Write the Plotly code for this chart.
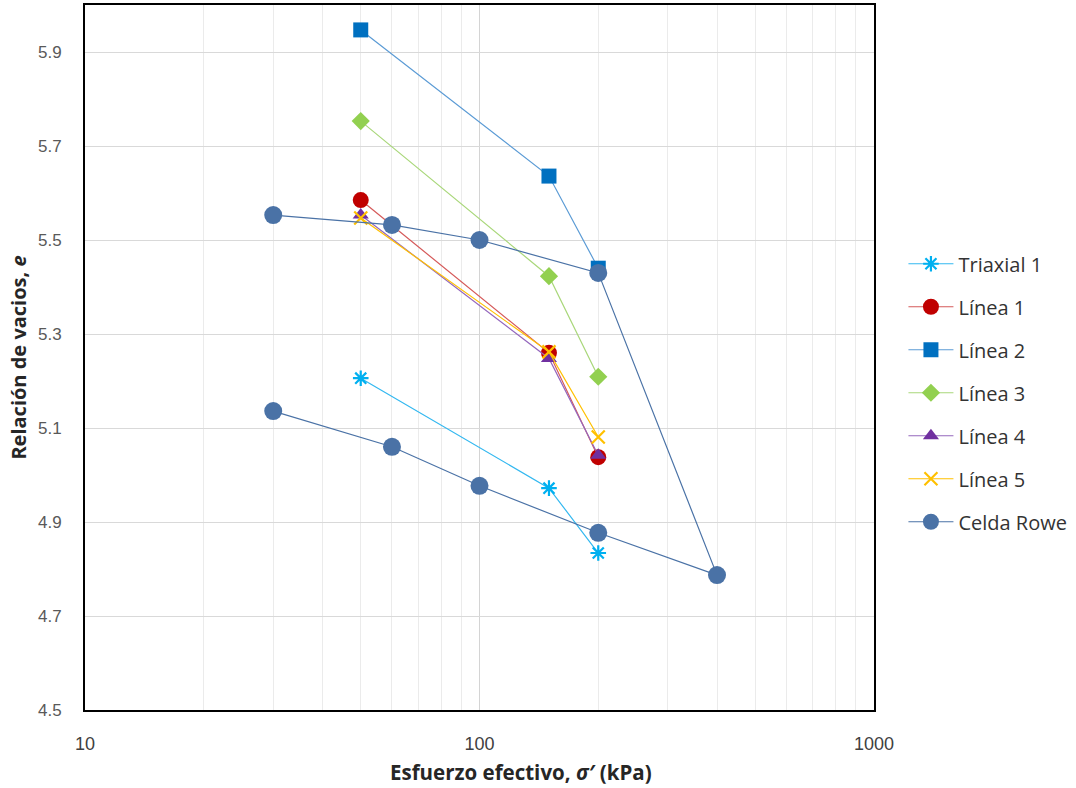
import plotly.graph_objects as go

# Data
tri_x = [50, 150, 200]
tri_y = [5.206, 4.972, 4.834]
l1_x = [50, 150, 200]
l1_y = [5.585, 5.260, 5.038]
l2_x = [50, 150, 200]
l2_y = [5.947, 5.636, 5.440]
l3_x = [50, 150, 200]
l3_y = [5.753, 5.423, 5.209]
l4_x = [50, 150, 200]
l4_y = [5.553, 5.248, 5.042]
l5_x = [50, 150, 200]
l5_y = [5.547, 5.262, 5.081]
rowe_x = [30, 60, 100, 200, 400, 200, 100, 60, 30]
rowe_y = [5.553, 5.532, 5.500, 5.430, 4.787, 4.877, 4.977, 5.060, 5.136]

y_ticks = [4.5, 4.7, 4.9, 5.1, 5.3, 5.5, 5.7, 5.9]
x_ticks = [10, 100, 1000]
x_minor = [20, 30, 40, 50, 60, 70, 80, 90, 200, 300, 400, 500, 600, 700, 800, 900]

fig = go.Figure()

def add(name, x, y, line_color, marker):
    fig.add_trace(go.Scatter(
        x=x, y=y, name=name, mode="lines+markers",
        line=dict(color=line_color, width=1.2),
        marker=marker, legendgroup=name,
    ))

add("Triaxial 1", tri_x, tri_y, "#33B8F0",
    dict(symbol="asterisk-open", size=13, color="#00B0F0", line=dict(color="#00B0F0", width=2.2)))
add("Línea 1", l1_x, l1_y, "#D55A5A",
    dict(symbol="circle", size=16, color="#C00000"))
add("Línea 2", l2_x, l2_y, "#5B9BD5",
    dict(symbol="square", size=15, color="#0070C0"))
add("Línea 3", l3_x, l3_y, "#A9D77A",
    dict(symbol="diamond", size=14, color="#92D050"))
add("Línea 4", l4_x, l4_y, "#9467BD",
    dict(symbol="triangle-up", size=14, color="#7030A0"))
add("Línea 5", l5_x, l5_y, "#FFC000",
    dict(symbol="x-thin-open", size=13, color="#FFC000", line=dict(color="#FFC000", width=2.2)))
add("Celda Rowe", rowe_x, rowe_y, "#4A72A6",
    dict(symbol="circle", size=18, color="#4A72A6"))

fig.update_layout(
    width=1076, height=788,
    paper_bgcolor="white", plot_bgcolor="white",
    margin=dict(l=85, r=201, t=5, b=78),
    font=dict(family="Liberation Sans", size=17, color="#595959"),
    legend=dict(
        x=1.036, y=0.45, xanchor="left", yanchor="middle",
        font=dict(family="Open Sans", size=20, color="#333333"),
        tracegroupgap=14, itemwidth=45,
    ),
    showlegend=True,
    annotations=[dict(
        text="<b>Esfuerzo efectivo, <i>σ′</i> (kPa)</b>",
        xref="paper", yref="paper", x=0.552, y=-0.088,
        xanchor="center", yanchor="middle", showarrow=False,
        font=dict(family="Open Sans", size=20.5, color="#262626"),
    )],
)

fig.update_xaxes(
    type="log", range=[1, 3], automargin=False,
    tickvals=x_ticks, ticktext=[str(v) for v in x_ticks],
    showgrid=True, gridcolor="#D4D4D4", gridwidth=1.4,
    minor=dict(tickvals=x_minor, showgrid=True, gridcolor="#EBEBEB", gridwidth=1.4),
    showline=True, linecolor="black", linewidth=2, mirror=True,
    ticks="", ticklabelstandoff=16,
    tickfont=dict(size=18, color="#404040"),
)
fig.update_yaxes(
    range=[4.5, 6.0], automargin=False,
    tickvals=y_ticks, ticktext=[f"{v:.1f}" for v in y_ticks],
    showgrid=True, gridcolor="#D9D9D9", gridwidth=1.4,
    showline=True, linecolor="black", linewidth=2, mirror=True,
    ticks="", zeroline=False, ticklabelstandoff=18,
    tickfont=dict(size=17, color="#595959"),
    title=dict(text="<b>Relación de vacios, <i>e</i></b>",
               font=dict(family="Open Sans", size=20, color="#262626"), standoff=6),
)

fig.write_html("out.html", config={"displayModeBar": False},
               post_script="document.body.style.margin='0';")
